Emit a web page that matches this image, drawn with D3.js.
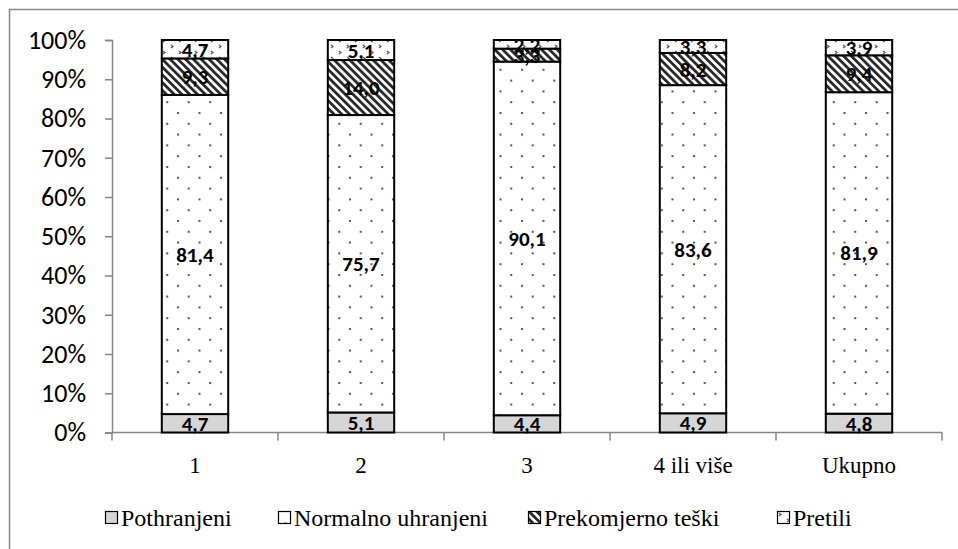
<!DOCTYPE html>
<html><head><meta charset="utf-8">
<script src="https://cdn.jsdelivr.net/npm/d3@7/dist/d3.min.js"></script>
<style>
html,body{margin:0;padding:0;background:#fff;}
svg{display:block;}
</style></head>
<body>
<script>
const categories = ["1", "2", "3", "4 ili više", "Ukupno"];
const seriesNames = ["Pothranjeni", "Normalno uhranjeni", "Prekomjerno teški", "Pretili"];
const pothranjeni = [4.7, 5.1, 4.4, 4.9, 4.8];
const normalno = [81.4, 75.7, 90.1, 83.6, 81.9];
const prekomjerno = [9.3, 14.0, 3.3, 8.2, 9.4];
const pretili = [4.7, 5.1, 2.2, 3.3, 3.9];
const yTicks = [0, 10, 20, 30, 40, 50, 60, 70, 80, 90, 100];

const SERIF = '"Liberation Serif", "Times New Roman", serif';
const SANS = 'Carlito, Calibri, Lato, sans-serif';

const W = 958, H = 549;
const svg = d3.select("body").append("svg").attr("width", W).attr("height", H);

// frame
svg.append("path").attr("d", `M9.5,${H + 5} V9.5 H${W + 5}`)
  .attr("fill", "none").attr("stroke", "#868686").attr("stroke-width", 1.5);

const defs = svg.append("defs");
// dotted pattern (Normalno)
const pDot = defs.append("pattern").attr("id", "pDot").attr("patternUnits", "userSpaceOnUse")
  .attr("width", 21.5).attr("height", 21.6).attr("x", 3).attr("y", 2);
pDot.append("rect").attr("width", 21.5).attr("height", 21.6).attr("fill", "#fff");
pDot.append("rect").attr("x", 2).attr("y", 2).attr("width", 2).attr("height", 2).attr("fill", "#555");
pDot.append("rect").attr("x", 12.75).attr("y", 12.8).attr("width", 2).attr("height", 2).attr("fill", "#555");
// hatch (Prekomjerno)
const pHatch = defs.append("pattern").attr("id", "pHatch").attr("patternUnits", "userSpaceOnUse")
  .attr("width", 5.5).attr("height", 10).attr("patternTransform", "rotate(-45)");
pHatch.append("rect").attr("width", 5.5).attr("height", 10).attr("fill", "#fff");
pHatch.append("rect").attr("x", 0).attr("width", 2.8).attr("height", 10).attr("fill", "#2a2a2a");
// sparse marks (Pretili)
const pMark = defs.append("pattern").attr("id", "pMark").attr("patternUnits", "userSpaceOnUse")
  .attr("width", 16).attr("height", 12).attr("x", 1).attr("y", 2);
pMark.append("rect").attr("width", 16).attr("height", 12).attr("fill", "#fff");
pMark.append("path").attr("d", "M2,1 L4,2.5 L2,4").attr("fill", "none").attr("stroke", "#555").attr("stroke-width", 1.2);
pMark.append("path").attr("d", "M10,7 L12,8.5 L10,10").attr("fill", "none").attr("stroke", "#555").attr("stroke-width", 1.2);

const fills = ["#d6d6d6", "url(#pDot)", "url(#pHatch)", "url(#pMark)"];

const x0 = 112, x1 = 942, y0 = 432.5, y1 = 40;
const x = d3.scaleBand().domain(categories).range([x0, x1]).paddingInner(0).paddingOuter(0);
const y = d3.scaleLinear().domain([0, 1]).range([y0, y1]);
const yAx = d3.scaleLinear().domain([0, 100]).range([y0, y1]);

const rows = categories.map((c, i) => ({
  cat: c,
  [seriesNames[0]]: pothranjeni[i],
  [seriesNames[1]]: normalno[i],
  [seriesNames[2]]: prekomjerno[i],
  [seriesNames[3]]: pretili[i]
}));
const stacked = d3.stack().keys(seriesNames).offset(d3.stackOffsetExpand)(rows);

const axisColor = "#868686";
// y axis
const gy = svg.append("g").attr("transform", `translate(${x0},0)`)
  .call(d3.axisLeft(yAx).tickValues(yTicks).tickFormat(d => d + "%").tickSize(7).tickPadding(19));
gy.select(".domain").attr("stroke", axisColor).attr("stroke-width", 1.5);
gy.selectAll(".tick line").attr("stroke", axisColor).attr("stroke-width", 1.5);
gy.selectAll("text").style("font-family", SANS).style("font-size", "26px").attr("fill", "#000");

// x axis
const gx = svg.append("g").attr("transform", `translate(0,${y0})`);
gx.append("line").attr("x1", x0).attr("x2", x1).attr("stroke", axisColor).attr("stroke-width", 1.5);
const bounds = categories.map(c => x(c)).concat([x1]);
gx.selectAll("line.tk").data(bounds).join("line").attr("class", "tk")
  .attr("x1", d => d).attr("x2", d => d).attr("y1", 0).attr("y2", 8)
  .attr("stroke", axisColor).attr("stroke-width", 1.5);
gx.selectAll("text").data(categories).join("text")
  .attr("x", d => x(d) + x.bandwidth() / 2).attr("y", 40)
  .attr("text-anchor", "middle")
  .style("font-family", SERIF).style("font-size", "23px").attr("fill", "#000").text(d => d);

// bars
const bw = x.bandwidth() * 0.4;
const fmt = v => d3.format(".1f")(v).replace(".", ",");
stacked.forEach((s, si) => {
  const g = svg.append("g");
  g.selectAll("rect").data(s).join("rect")
    .attr("x", d => x(d.data.cat) + (x.bandwidth() - bw) / 2)
    .attr("width", bw)
    .attr("y", d => y(d[1]))
    .attr("height", d => y(d[0]) - y(d[1]))
    .attr("fill", fills[si]).attr("stroke", "#000").attr("stroke-width", 2);
});
stacked.forEach((s, si) => {
  svg.append("g").selectAll("text").data(s).join("text")
    .attr("x", d => x(d.data.cat) + x.bandwidth() / 2)
    .attr("y", d => (y(d[0]) + y(d[1])) / 2)
    .attr("dy", "0.36em")
    .attr("text-anchor", "middle")
    .style("font-family", SANS).style("font-weight", "bold")
    .style("font-size", "21px").attr("fill", "#000")
    .text(d => fmt(d.data[s.key]));
});

// legend
const legX = [105, 278, 528, 777];
const lg = svg.append("g");
seriesNames.forEach((n, i) => {
  lg.append("rect").attr("x", legX[i] + 0.5).attr("y", 511.5).attr("width", 12).attr("height", 12)
    .attr("fill", fills[i]).attr("stroke", "#000").attr("stroke-width", 1.2);
  lg.append("text").attr("x", legX[i] + 16).attr("y", 526)
    .style("font-family", SERIF).style("font-size", "24px")
    .attr("fill", "#000").text(n);
});
</script>
</body></html>
